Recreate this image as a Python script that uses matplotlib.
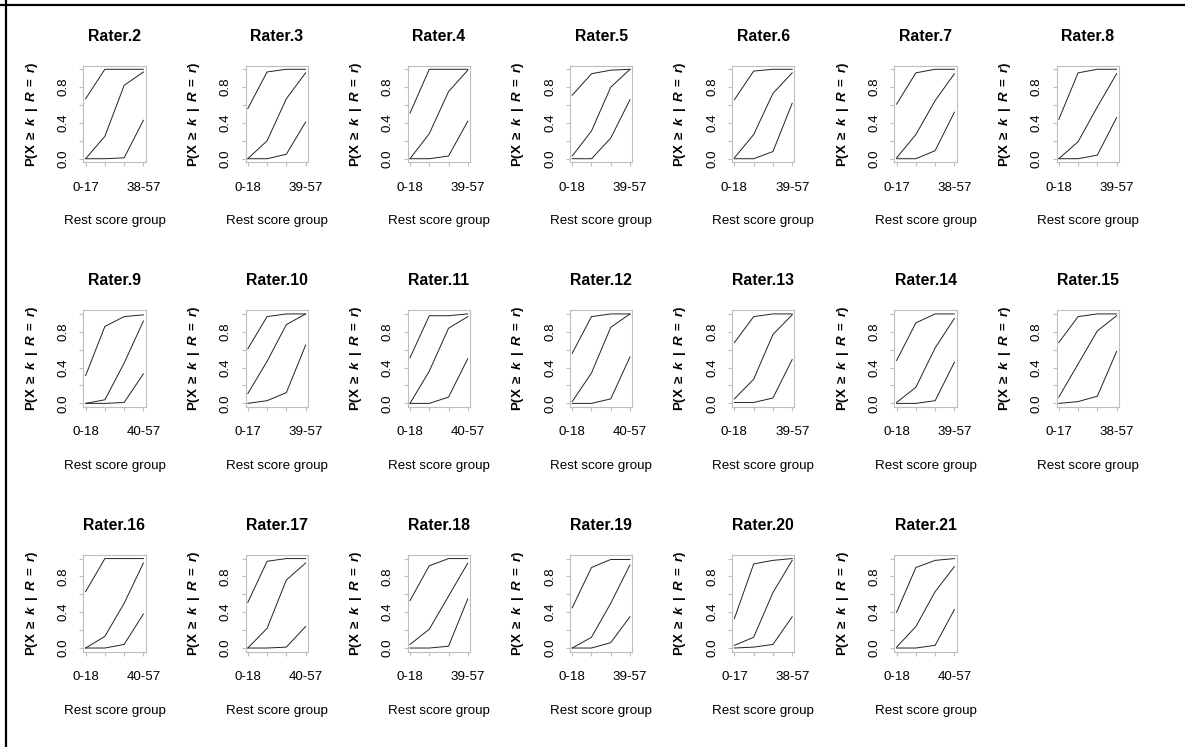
import matplotlib
matplotlib.use("Agg")
import matplotlib.pyplot as plt
from matplotlib.lines import Line2D
import numpy as np

plt.rcParams['font.family'] = ['Liberation Sans', 'DejaVu Sans']
plt.rcParams['mathtext.fontset'] = 'custom'
plt.rcParams['mathtext.rm'] = 'Liberation Sans:bold'
plt.rcParams['mathtext.it'] = 'Liberation Sans:italic:bold'
plt.rcParams['mathtext.bf'] = 'Liberation Sans:bold'

raters = ['Rater.%d' % i for i in range(2, 22)]

# first / last rest score group of each rater
first_group = ['0-17', '0-18', '0-18', '0-18', '0-18', '0-17', '0-18',
               '0-18', '0-17', '0-18', '0-18', '0-18', '0-18', '0-17',
               '0-18', '0-18', '0-18', '0-18', '0-17', '0-18']
last_group = ['38-57', '39-57', '39-57', '39-57', '39-57', '38-57', '39-57',
              '40-57', '39-57', '40-57', '40-57', '39-57', '39-57', '38-57',
              '40-57', '40-57', '39-57', '39-57', '38-57', '40-57']

# P(X >= k | R = r) for k = 1, 2, 3 over the 4 rest score groups
p_k1 = [
    [0.67, 1.00, 1.00, 1.00],
    [0.56, 0.97, 1.00, 1.00],
    [0.51, 1.00, 1.00, 1.00],
    [0.71, 0.95, 0.99, 1.00],
    [0.66, 0.98, 1.00, 1.00],
    [0.61, 0.96, 1.00, 1.00],
    [0.44, 0.96, 1.00, 1.00],
    [0.31, 0.86, 0.97, 0.99],
    [0.61, 0.97, 1.00, 1.00],
    [0.51, 0.98, 0.98, 1.00],
    [0.56, 0.97, 1.00, 1.00],
    [0.68, 0.97, 1.00, 1.00],
    [0.48, 0.90, 1.00, 1.00],
    [0.68, 0.97, 1.00, 1.00],
    [0.63, 1.00, 1.00, 1.00],
    [0.51, 0.97, 1.00, 1.00],
    [0.53, 0.92, 1.00, 1.00],
    [0.45, 0.90, 0.99, 0.99],
    [0.33, 0.94, 0.98, 1.00],
    [0.40, 0.90, 0.98, 1.00],
]
p_k2 = [
    [0.00, 0.25, 0.82, 0.97],
    [0.00, 0.20, 0.67, 0.96],
    [0.00, 0.28, 0.75, 0.99],
    [0.03, 0.31, 0.80, 1.00],
    [0.01, 0.27, 0.73, 0.96],
    [0.01, 0.27, 0.65, 0.95],
    [0.00, 0.19, 0.58, 0.95],
    [0.00, 0.04, 0.45, 0.92],
    [0.11, 0.47, 0.88, 1.00],
    [0.00, 0.36, 0.84, 0.97],
    [0.02, 0.34, 0.85, 1.00],
    [0.05, 0.27, 0.77, 0.99],
    [0.01, 0.18, 0.62, 0.95],
    [0.07, 0.44, 0.81, 0.98],
    [0.00, 0.13, 0.50, 0.95],
    [0.00, 0.22, 0.76, 0.95],
    [0.04, 0.21, 0.58, 0.95],
    [0.00, 0.12, 0.50, 0.93],
    [0.03, 0.12, 0.62, 0.98],
    [0.01, 0.24, 0.63, 0.91],
]
p_k3 = [
    [0.00, 0.00, 0.01, 0.43],
    [0.00, 0.00, 0.05, 0.41],
    [0.00, 0.00, 0.03, 0.42],
    [0.00, 0.00, 0.23, 0.66],
    [0.00, 0.00, 0.08, 0.62],
    [0.00, 0.00, 0.09, 0.52],
    [0.00, 0.00, 0.04, 0.46],
    [0.00, 0.00, 0.01, 0.33],
    [0.00, 0.03, 0.12, 0.65],
    [0.00, 0.00, 0.07, 0.50],
    [0.00, 0.00, 0.05, 0.52],
    [0.01, 0.01, 0.06, 0.49],
    [0.00, 0.00, 0.03, 0.46],
    [0.00, 0.02, 0.08, 0.58],
    [0.00, 0.00, 0.04, 0.38],
    [0.00, 0.00, 0.01, 0.24],
    [0.00, 0.00, 0.02, 0.55],
    [0.00, 0.00, 0.06, 0.35],
    [0.00, 0.01, 0.04, 0.35],
    [0.00, 0.00, 0.03, 0.43],
]

W, H = 1185, 747
fig = plt.figure(figsize=(W / 100, H / 100), dpi=100)

# panel geometry in pixels
x0, dx, pw = 83.3, 162.2, 62.4
y0, dy, ph = 65.7, 244.65, 96.6
grey = '#BEBEBE'
fs = 9.6
ylab = r'$\mathrm{P(X}\;\geq\;k\;\;|\;\;R\;=\;r\mathrm{)}$'

groups = np.arange(1, 5)
for i, name in enumerate(raters):
    row, col = divmod(i, 7)
    left = (x0 + col * dx) / W
    bottom = 1 - (y0 + row * dy + ph) / H
    ax = fig.add_axes([left, bottom, pw / W, ph / H])
    for p in (p_k1, p_k2, p_k3):
        ax.plot(groups, p[i], color='#222222', lw=0.7)
    ax.set_xlim(1 - 0.12, 4 + 0.12)
    ax.set_ylim(-0.04, 1.04)
    ax.set_xticks(groups)
    ax.set_xticklabels([first_group[i], '', '', last_group[i]], fontsize=fs)
    ax.set_yticks([0, 0.2, 0.4, 0.6, 0.8, 1.0])
    ax.set_yticklabels(['0.0', '', '0.4', '', '0.8', ''], fontsize=fs,
                       rotation=90, va='center')
    ax.tick_params(axis='both', color=grey, length=3, width=0.8)
    ax.tick_params(axis='x', pad=11)
    ax.tick_params(axis='y', pad=7)
    for s in ax.spines.values():
        s.set_color(grey)
        s.set_linewidth(0.8)
    ax.set_title(name, fontsize=11.4, fontweight='bold', pad=18)
    ax.set_xlabel('Rest score group', fontsize=fs)
    ax.xaxis.set_label_coords(0.5, -0.55)
    ax.set_ylabel(ylab, fontsize=fs)
    ax.yaxis.set_label_coords(-0.7, 0.5)

# frame lines on the left and top edges
fig.add_artist(Line2D([6 / W, 6 / W], [0, 1], color='black', lw=1.6,
                      transform=fig.transFigure))
fig.add_artist(Line2D([0, 1], [1 - 5 / H, 1 - 5 / H], color='black', lw=1.6,
                      transform=fig.transFigure))

fig.savefig('out.png', dpi=100)
